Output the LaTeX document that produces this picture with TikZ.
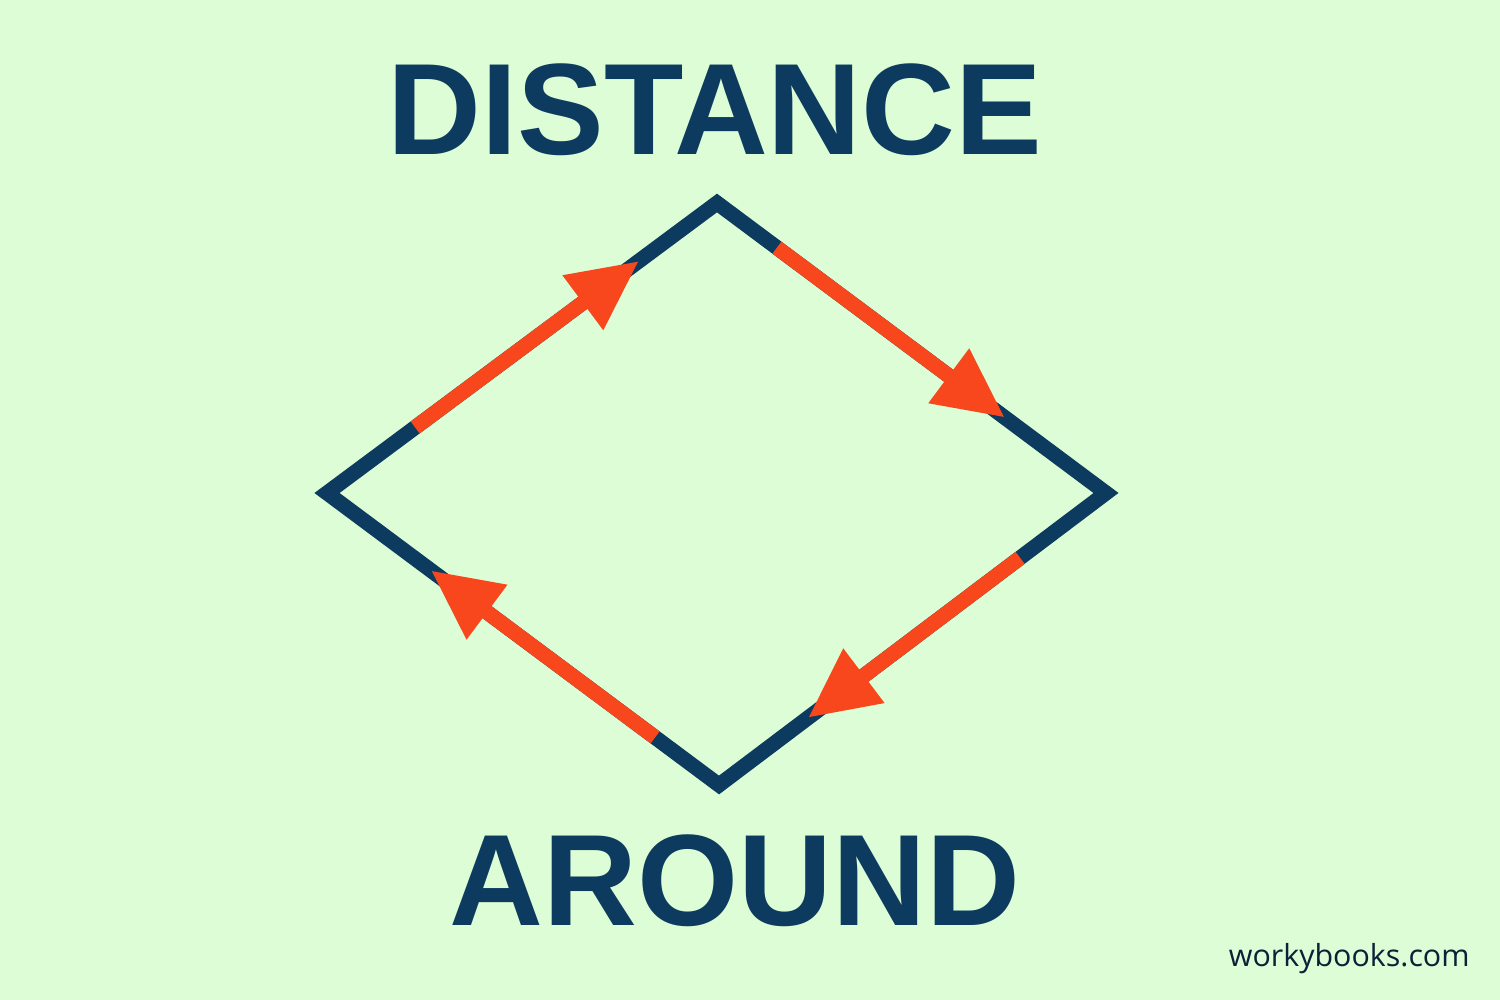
\documentclass[tikz,border=0pt]{standalone}
\usepackage{fontspec}
\setmainfont{Liberation Sans}
\newfontfamily\sitefont{Open Sans}
\usetikzlibrary{calc,arrows.meta}
\definecolor{bgc}{HTML}{DCFDD5}
\definecolor{navy}{HTML}{0D3A5F}
\definecolor{redo}{HTML}{F8471C}
\definecolor{site}{HTML}{0E1F38}
\begin{document}
\begin{tikzpicture}[x=0.5pt,y=-0.5pt,
  edge/.style={draw=navy,line width=7.5pt,line join=miter},
  arr/.style={draw=redo,line width=7.5pt,-{Triangle[length=35pt,width=32pt]}},
  title/.style={text=navy,font=\fontsize{65pt}{70pt}\selectfont\bfseries,anchor=base,inner sep=0pt}]
\fill[bgc] (0,0) rectangle (1500,1000);
\useasboundingbox (0,0) rectangle (1500,1000);
\coordinate (T) at (717,203);
\coordinate (R) at (1106,493);
\coordinate (B) at (719,785);
\coordinate (L) at (327,493);
\draw[edge] (L) -- (T) -- (R) -- (B) -- cycle;
\draw[arr] ($(L)!0.226!(T)$) -- ($(L)!0.80!(T)$);
\draw[arr] ($(T)!0.154!(R)$) -- ($(T)!0.74!(R)$);
\draw[arr] ($(R)!0.222!(B)$) -- ($(R)!0.77!(B)$);
\draw[arr] ($(B)!0.163!(L)$) -- ($(B)!0.735!(L)$);
\node[title] (dist) at (715,155) {DISTANCE};
\node[title] (around) at (735,925) {AROUND};
\node[text=site,font=\sitefont\fontsize{15.2pt}{18pt}\selectfont,anchor=base east,inner sep=0pt] (site) at (1470,966) {workybooks.com};
\end{tikzpicture}
\end{document}
